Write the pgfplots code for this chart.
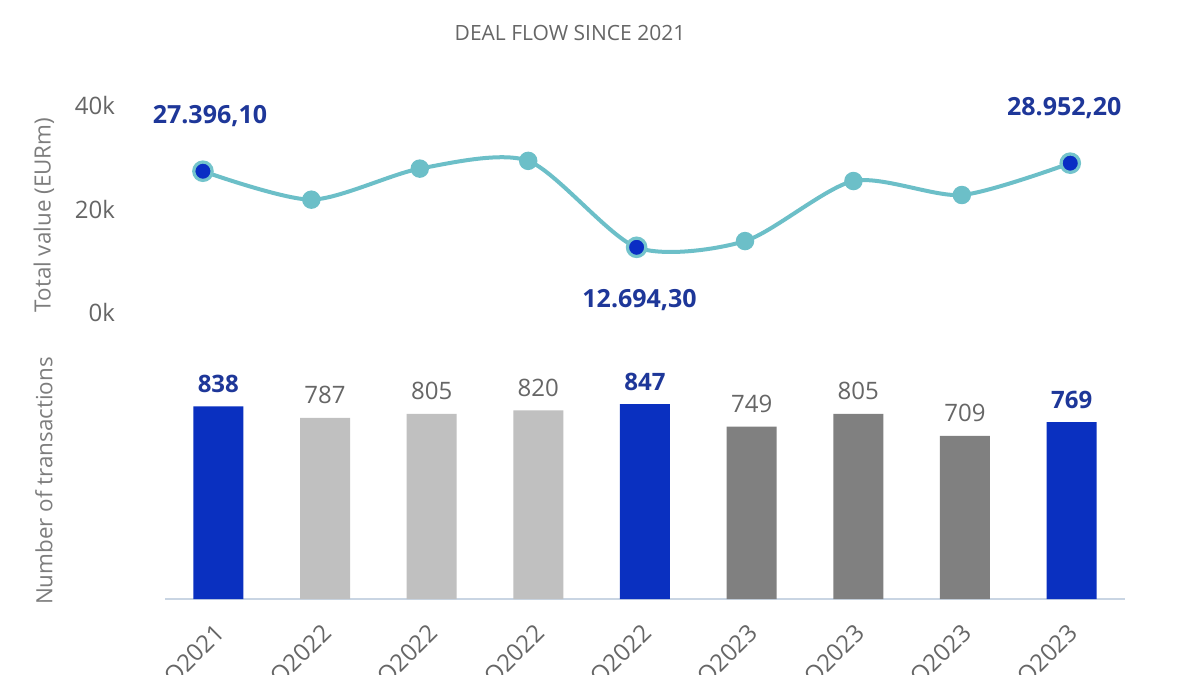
\documentclass[border=0pt]{standalone}
\usepackage{fontspec}
\setmainfont{Open Sans}
\usepackage{pgfplots}
\usepackage{pgfplotstable}
\pgfplotsset{compat=1.18}
\pgfplotsset{/pgf/number format/assume math mode=true}
\definecolor{barblue}{HTML}{0A30C0}
\definecolor{lightgrey}{HTML}{C0C0C0}
\definecolor{darkgrey}{HTML}{808080}
\definecolor{lblblue}{HTML}{1E3799}
\definecolor{txtgrey}{HTML}{666666}
\definecolor{teal}{HTML}{6CBFC8}
\definecolor{ring}{HTML}{74C4CC}
\definecolor{dotblue}{HTML}{0A2DC4}
\definecolor{baseline}{HTML}{C9D5E3}

\pgfplotstableread{
x y
0 27396.1
1 21900
2 27900
3 29400
4 12694.3
5 13900
6 25500
7 22800
8 28952.2
}\valtab
\pgfplotstableread{
x y label
0 27396.1 27.396,10
}\hifirst
\pgfplotstableread{
x y label
8 28952.2 28.952,20
}\hilast
\pgfplotstableread{
x y label
4 12694.3 12.694,30
}\hibot
\pgfplotstableread{
x y
0 838
4 847
8 769
}\bluebars
\pgfplotstableread{
x y
1 787
2 805
3 820
}\lightbars
\pgfplotstableread{
x y
5 749
6 805
7 709
}\darkbars

\begin{document}
\begin{tikzpicture}
\useasboundingbox (0,0) rectangle (600pt,337.5pt);
\fill[white] (0,0) rectangle (600pt,337.5pt);

\node[text=txtgrey, font=\fontsize{10.5}{12}\selectfont] at (285pt,321pt) {DEAL FLOW SINCE 2021};
\node[rotate=90, text=txtgrey!85, font=\fontsize{11.2}{12}\selectfont] at (22pt,230pt) {Total value (EURm)};
\node[rotate=90, text=txtgrey!85, font=\fontsize{11.2}{12}\selectfont] at (22pt,97pt) {Number of transactions};

% top line chart
\begin{axis}[
  at={(82.5pt,181pt)}, anchor=south west,
  scale only axis, width=480pt, height=103.5pt,
  xmin=-0.35, xmax=8.505, ymin=0, ymax=40000,
  axis line style={draw=none},
  xtick=\empty,
  ytick={0,20000,40000}, yticklabels={0k,20k,40k},
  scaled y ticks=false,
  major tick length=0pt,
  yticklabel style={text=txtgrey, font=\fontsize{12}{13}\selectfont, xshift=-21.5pt},
  clip=false,
]
\addplot[teal, line width=2pt, smooth, tension=0.45, mark=*, mark size=3.6pt, mark options={fill=teal, draw=none}] table[x=x,y=y] {\valtab};
\addplot[only marks, mark=*, mark size=4.6pt, mark options={fill=dotblue, draw=ring, line width=1.6pt},
  point meta=explicit symbolic,
  nodes near coords,
  nodes near coords style={anchor=center, xshift=3.5pt, yshift=27.5pt, text=lblblue, font=\bfseries\fontsize{12.5}{14}\selectfont}]
  table[x=x,y=y,meta=label] {\hifirst};
\addplot[only marks, mark=*, mark size=4.6pt, mark options={fill=dotblue, draw=ring, line width=1.6pt},
  point meta=explicit symbolic,
  nodes near coords,
  nodes near coords style={anchor=center, xshift=-3pt, yshift=27.5pt, text=lblblue, font=\bfseries\fontsize{12.5}{14}\selectfont}]
  table[x=x,y=y,meta=label] {\hilast};
\addplot[only marks, mark=*, mark size=4.6pt, mark options={fill=dotblue, draw=ring, line width=1.6pt},
  point meta=explicit symbolic,
  nodes near coords,
  nodes near coords style={anchor=center, xshift=1.5pt, yshift=-26.5pt, text=lblblue, font=\bfseries\fontsize{12.5}{14}\selectfont}]
  table[x=x,y=y,meta=label] {\hibot};
\end{axis}

% bottom bar chart
\begin{axis}[
  at={(82.5pt,38pt)}, anchor=south west,
  scale only axis, width=480pt, height=115pt,
  xmin=-0.5, xmax=8.5, ymin=0, ymax=1000,
  axis x line*=bottom, axis y line=none,
  x axis line style={draw=baseline, line width=1pt, -},
  ybar, bar width=25pt, bar shift=0pt,
  xtick={0,1,2,3,4,5,6,7,8},
  xticklabels={4Q2021,1Q2022,2Q2022,3Q2022,4Q2022,1Q2023,2Q2023,3Q2023,4Q2023},
  major tick length=0pt,
  xticklabel style={xshift=4pt, yshift=-13pt, rotate=45, anchor=east, text=txtgrey, font=\fontsize{12}{14}\selectfont},
  clip=false,
  nodes near coords,
]
\addplot[fill=barblue, draw=none, nodes near coords style={yshift=3pt, text=lblblue, font=\bfseries\fontsize{12}{14}\selectfont}] table[x=x,y=y] {\bluebars};
\addplot[fill=lightgrey, draw=none, nodes near coords style={yshift=3.5pt, text=txtgrey, font=\fontsize{12}{14}\selectfont}] table[x=x,y=y] {\lightbars};
\addplot[fill=darkgrey, draw=none, nodes near coords style={yshift=3.5pt, text=txtgrey, font=\fontsize{12}{14}\selectfont}] table[x=x,y=y] {\darkbars};
\end{axis}
\end{tikzpicture}
\end{document}
